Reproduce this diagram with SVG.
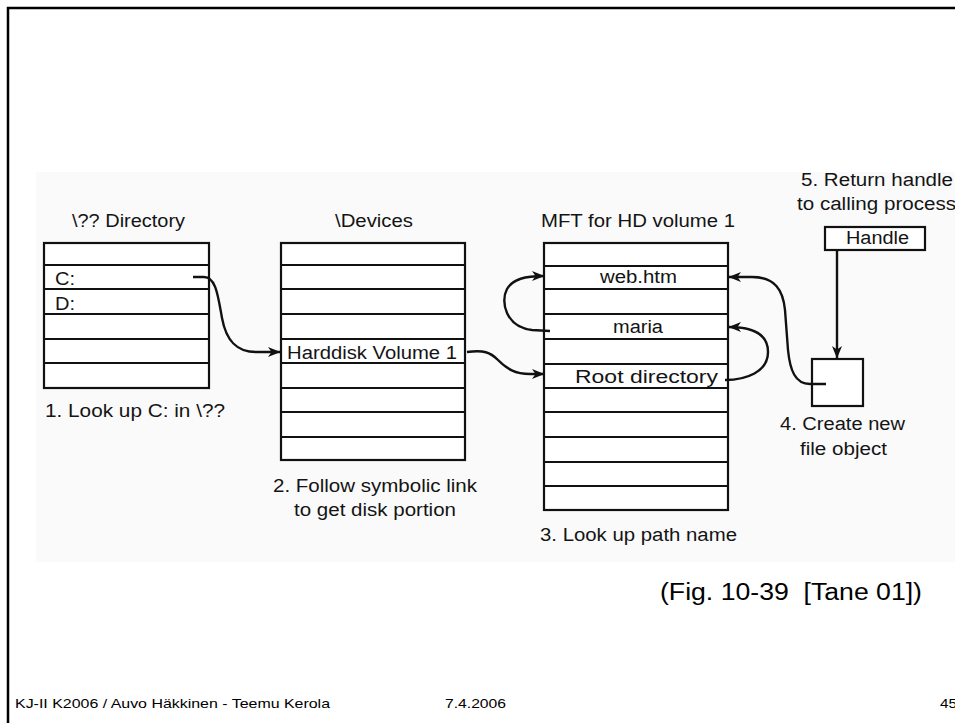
<svg xmlns="http://www.w3.org/2000/svg" width="955" height="723" viewBox="0 0 955 723">
<style>
.t{font-family:"Liberation Sans",Arial,sans-serif;font-size:18px;fill:#141414}
.f{font-family:"Liberation Sans",Arial,sans-serif;font-size:13px;fill:#000}
.cap{font-family:"Liberation Sans",Arial,sans-serif;font-size:23px;fill:#000;white-space:pre}
.box{fill:#fff;stroke:#111;stroke-width:2.2}
.row{stroke:#111;stroke-width:2}
.con{fill:none;stroke:#111;stroke-width:2.4}
</style>
<defs>
<marker id="arr" markerUnits="userSpaceOnUse" markerWidth="14" markerHeight="12" refX="12" refY="5" orient="auto">
<path d="M0,0 L12.5,5 L0,10 L3.5,5 z" fill="#111"/>
</marker>
</defs>
<rect x="0" y="0" width="955" height="723" fill="#fff"/>
<rect x="36" y="172" width="919" height="390" fill="#fafafa"/>
<rect x="8" y="8" width="970" height="740" fill="none" stroke="#000" stroke-width="2.5"/>

<g id="dir-table">
<text class="t" x="72" y="227" textLength="113" lengthAdjust="spacingAndGlyphs">\?? Directory</text>
<rect class="box" x="44" y="243" width="165" height="145"/>
<path class="row" d="M44,265H209M44,289H209M44,314H209M44,339H209M44,363H209"/>
<text class="t" x="55" y="285" textLength="20" lengthAdjust="spacingAndGlyphs">C:</text>
<text class="t" x="55" y="310" textLength="20" lengthAdjust="spacingAndGlyphs">D:</text>
<text class="t" x="45" y="417" textLength="180" lengthAdjust="spacingAndGlyphs">1. Look up C: in \??</text>
</g>

<g id="devices-table">
<text class="t" x="335" y="227" textLength="78" lengthAdjust="spacingAndGlyphs">\Devices</text>
<rect class="box" x="281" y="243" width="184" height="217"/>
<path class="row" d="M281,265H465M281,289H465M281,314H465M281,339H465M281,363H465M281,388H465M281,412H465M281,437H465"/>
<text class="t" x="287" y="359" textLength="170" lengthAdjust="spacingAndGlyphs">Harddisk Volume 1</text>
<text class="t" x="273" y="492" textLength="204" lengthAdjust="spacingAndGlyphs">2. Follow symbolic link</text>
<text class="t" x="294" y="516" textLength="162" lengthAdjust="spacingAndGlyphs">to get disk portion</text>
</g>

<g id="mft-table">
<text class="t" x="541" y="227" textLength="194" lengthAdjust="spacingAndGlyphs">MFT for HD volume 1</text>
<rect class="box" x="544" y="243" width="184" height="267"/>
<path class="row" d="M544,266H728M544,289H728M544,314H728M544,339H728M544,364H728M544,388H728M544,412H728M544,437H728M544,462H728M544,486H728"/>
<text class="t" x="600" y="283" textLength="77" lengthAdjust="spacingAndGlyphs">web.htm</text>
<text class="t" x="613" y="333" textLength="50" lengthAdjust="spacingAndGlyphs">maria</text>
<text class="t" x="575" y="383" textLength="143" lengthAdjust="spacingAndGlyphs">Root directory</text>
<text class="t" x="540" y="541" textLength="197" lengthAdjust="spacingAndGlyphs">3. Look up path name</text>
</g>

<g id="handle">
<text class="t" x="801" y="186" textLength="152" lengthAdjust="spacingAndGlyphs">5. Return handle</text>
<text class="t" x="797" y="210" textLength="159" lengthAdjust="spacingAndGlyphs">to calling process</text>
<rect class="box" x="825" y="227" width="100" height="23"/>
<text class="t" x="846" y="244" textLength="63" lengthAdjust="spacingAndGlyphs">Handle</text>
</g>

<g id="file-object">
<rect class="box" x="812" y="359" width="51" height="47"/>
<text class="t" x="780" y="430" textLength="125" lengthAdjust="spacingAndGlyphs">4. Create new</text>
<text class="t" x="800" y="455" textLength="87" lengthAdjust="spacingAndGlyphs">file object</text>
</g>

<g id="connectors">
<path class="con" marker-end="url(#arr)" d="M193,277 L204,277 C216,277 218,296 222,318 C226,340 236,352 256,352 L280,352"/>
<path class="con" marker-end="url(#arr)" d="M467,352 C484,350 490,352 498,360 C507,369 515,374 530,374 L544,374"/>
<path class="con" marker-end="url(#arr)" d="M550,331 L532,330 C506,327 500,302 507,289 C513,279 525,276 544,276"/>
<path class="con" marker-end="url(#arr)" d="M725,380 C746,380 768,372 768,352 C768,333 752,327 729,327"/>
<path class="con" marker-end="url(#arr)" d="M826,384 L810,384 C795,384 790,370 788,350 L785,310 C783,290 775,277 752,277 L729,277"/>
<path class="con" marker-end="url(#arr)" d="M837,250 L837,358"/>
</g>

<g id="caption">
<text class="cap" x="660" y="600" textLength="262" lengthAdjust="spacingAndGlyphs">(Fig. 10-39  [Tane 01])</text>
</g>
<g id="footer">
<text class="f" x="15" y="708" textLength="315" lengthAdjust="spacingAndGlyphs">KJ-II K2006 / Auvo Häkkinen - Teemu Kerola</text>
<text class="f" x="445" y="708" textLength="61" lengthAdjust="spacingAndGlyphs">7.4.2006</text>
<text class="f" x="940" y="708" textLength="17" lengthAdjust="spacingAndGlyphs">45</text>
</g>
</svg>
